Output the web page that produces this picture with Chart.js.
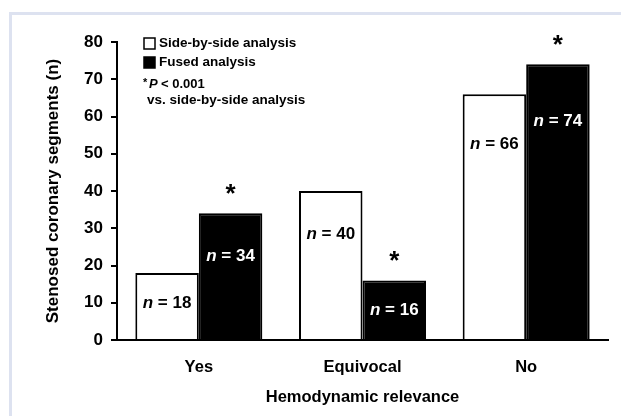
<!DOCTYPE html>
<html>
<head>
<meta charset="utf-8">
<script src="https://cdn.jsdelivr.net/npm/chart.js@4.4.1/dist/chart.umd.min.js"></script>
<style>
  html, body { margin: 0; padding: 0; background: #fff; }
  #wrap { width: 621px; height: 416px; position: relative; }
</style>
</head>
<body>
<div id="wrap"><canvas id="stenosis-chart"></canvas></div>
<script>
// Chart data
var categories = ["Yes", "Equivocal", "No"];
var sideBySide = [18, 40, 66];
var fused = [34, 16, 74];
var fusedSignificant = [true, true, true];
var yTicks = [0, 10, 20, 30, 40, 50, 60, 70, 80];

var FONT = "'Liberation Sans', Arial, sans-serif";

// light frame around the figure
var framePlugin = {
    id: 'frame',
    beforeDraw: function(chart) {
        var c = chart.ctx;
        c.save();
        c.fillStyle = '#fff';
        c.fillRect(0, 0, chart.width, chart.height);
        c.strokeStyle = '#dde2f0';
        c.lineWidth = 3;
        c.strokeRect(10.5, 13.5, chart.width + 20, chart.height + 20);
        c.restore();
    }
};

// "n = xx" labels inside the bars and asterisks above fused bars
var labelPlugin = {
    id: 'barLabels',
    afterDatasetsDraw: function(chart, args, opts) {
        var c = chart.ctx;
        c.save();
        c.textBaseline = 'middle';
        chart.data.datasets.forEach(function(ds, di) {
            var meta = chart.getDatasetMeta(di);
            meta.data.forEach(function(bar, i) {
                var off = opts.offsets[i][di];
                var y = bar.y + off;
                var rest = ' = ' + ds.data[i];
                c.font = 'italic bold 17px ' + FONT;
                var w1 = c.measureText('n').width;
                c.font = 'bold 17px ' + FONT;
                var w2 = c.measureText(rest).width;
                var x0 = bar.x - (w1 + w2) / 2;
                c.fillStyle = di === 0 ? '#000' : '#fff';
                c.textAlign = 'left';
                c.font = 'italic bold 17px ' + FONT;
                c.fillText('n', x0, y);
                c.font = 'bold 17px ' + FONT;
                c.fillText(rest, x0 + w1, y);

                if (di === 1 && fusedSignificant[i]) {
                    c.fillStyle = '#000';
                    c.textAlign = 'center';
                    c.textBaseline = 'alphabetic';
                    c.font = 'bold 26px ' + FONT;
                    c.fillText('*', bar.x, bar.y - 11);
                    c.textBaseline = 'middle';
                }
            });
        });
        c.restore();
    }
};

// legend + significance note in the upper left of the plot
var legendPlugin = {
    id: 'boxLegend',
    afterDraw: function(chart) {
        var c = chart.ctx;
        c.save();
        c.textBaseline = 'middle';
        c.textAlign = 'left';
        c.font = 'bold 13.5px ' + FONT;
        chart.data.datasets.forEach(function(ds, i) {
            var y = 43 + i * 19;
            c.fillStyle = ds.backgroundColor;
            c.fillRect(144, y - 5, 11, 11);
            c.strokeStyle = '#000';
            c.lineWidth = 1.5;
            c.strokeRect(144, y - 5, 11, 11);
            c.fillStyle = '#000';
            c.fillText(ds.label, 159, y);
        });
        c.font = 'bold 11px ' + FONT;
        c.fillText('*', 143, 83);
        c.font = 'italic bold 13px ' + FONT;
        c.fillText('P', 149, 84);
        c.font = 'bold 13px ' + FONT;
        c.fillText('< 0.001', 161, 84);
        c.font = 'bold 13.5px ' + FONT;
        c.fillText('vs. side-by-side analysis', 147, 100);
        c.restore();
    }
};

var ctx = document.getElementById('stenosis-chart');

var chartData = {
    labels: categories,
    datasets: [{
        label: 'Side-by-side analysis',
        data: sideBySide,
        backgroundColor: '#ffffff',
        borderColor: '#000000',
        borderWidth: 2
    }, {
        label: 'Fused analysis',
        data: fused,
        backgroundColor: '#000000',
        borderColor: '#000000',
        borderWidth: 2
    }]
};

var chartOptions = {
    responsive: true,
    maintainAspectRatio: false,
    animation: false,
    layout: { padding: { top: 42, left: 34, right: 13, bottom: 8 } },
    categoryPercentage: 0.776,
    barPercentage: 1.0,
    plugins: {
        legend: { display: false },
        tooltip: { enabled: false },
        barLabels: { offsets: [[30, 43], [43, 30], [50, 57]] }
    },
    scales: {
        x: {
            grid: { display: false, drawTicks: false },
            border: { color: '#000', width: 2 },
            ticks: { color: '#000', padding: 18, font: { family: FONT, size: 16.5, weight: 'bold' } },
            title: {
                display: true,
                text: 'Hemodynamic relevance',
                color: '#000',
                padding: { top: 0, bottom: 1 },
                font: { family: FONT, size: 16.5, weight: 'bold' }
            },
            afterFit: function(scale) { scale.height = 68; }
        },
        y: {
            min: 0,
            max: 80,
            afterBuildTicks: function(scale) {
                scale.ticks = yTicks.map(function(v) { return { value: v }; });
            },
            grid: { drawOnChartArea: false, drawTicks: true, tickLength: 6, color: '#000', lineWidth: 2 },
            border: { color: '#000', width: 2 },
            ticks: { color: '#000', padding: 8, font: { family: FONT, size: 17, weight: 'bold' } },
            title: {
                display: true,
                text: 'Stenosed coronary segments (n)',
                color: '#000',
                padding: 9,
                font: { family: FONT, size: 17, weight: 'bold' }
            },
            afterFit: function(scale) { scale.width = 83; }
        }
    }
};

var config = {
    type: 'bar',
    data: chartData,
    options: chartOptions,
    plugins: [framePlugin, labelPlugin, legendPlugin]
};

var stenosisChart = new Chart(ctx, config);
</script>
</body>
</html>
